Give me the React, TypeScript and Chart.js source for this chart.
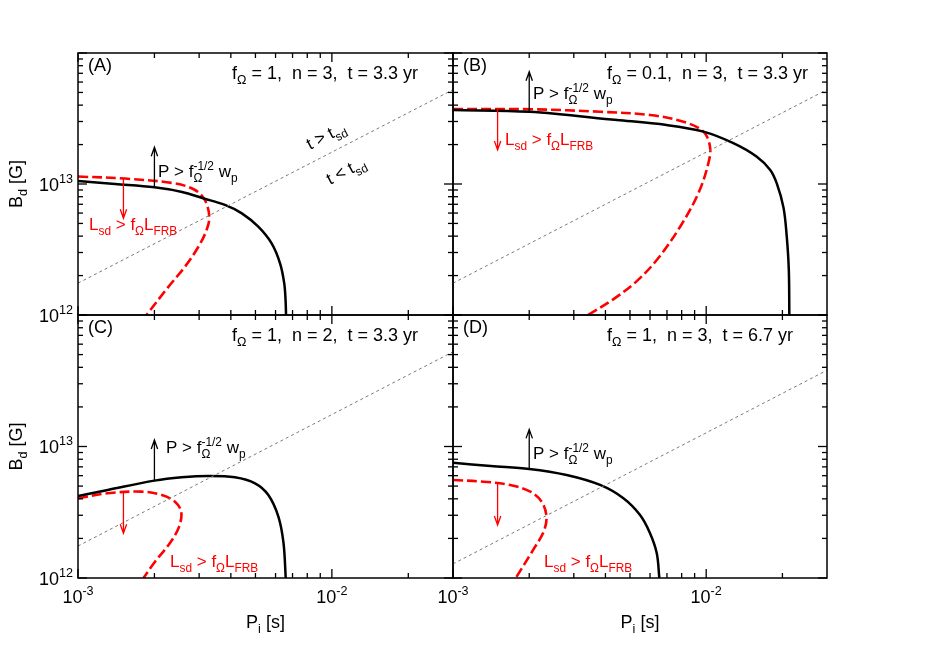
import React, { useEffect, useRef } from 'react';
import { Chart, registerables } from 'chart.js';

Chart.register(...registerables);

// ---------------- data ----------------
const X_MIN = 1e-3;
const X_MAX = 3e-2;
const Y_MIN = 1e12;
const Y_MAX = 1e14;

const xMajorTicks = [1e-3, 1e-2];
const xMinorTicks = [2e-3, 3e-3, 4e-3, 5e-3, 6e-3, 7e-3, 8e-3, 9e-3, 2e-2];
const yMajorTicks = [1e12, 1e13, 1e14];
const yMinorTicks = [2e12, 3e12, 4e12, 5e12, 6e12, 7e12, 8e12, 9e12, 2e13, 3e13, 4e13, 5e13, 6e13, 7e13, 8e13, 9e13];
const xLabelTicks = [1e-3, 1e-2];
const xTickLabels = ['-3', '-2'];
const yLabelTicks = [1e12, 1e13];
const yTickLabels = ['12', '13'];

// Panel A : f=1, n=3, t=3.3 yr
const panelA_black = [
  [1.0e-3, 1.055e13], [1.4e-3, 1.0e13], [2.0e-3, 9.44e12], [2.57e-3, 8.7e12], [3.11e-3, 7.78e12],
  [3.79e-3, 6.92e12], [4.42e-3, 5.97e12], [5.13e-3, 4.72e12], [5.79e-3, 3.52e12], [6.25e-3, 2.48e12],
  [6.49e-3, 1.75e12], [6.57e-3, 1.3e12], [6.6e-3, 1.0e12],
];
const panelA_red = [
  [1.0e-3, 1.14e13], [1.53e-3, 1.10e13], [2.41e-3, 1.01e13], [2.89e-3, 9.0e12], [3.16e-3, 7.55e12],
  [3.29e-3, 5.63e12], [3.21e-3, 4.45e12], [2.98e-3, 3.32e12], [2.64e-3, 2.34e12], [2.27e-3, 1.64e12],
  [1.86e-3, 1.0e12],
];
const panelA_tsd = [[1e-3, 1.75e12], [3e-2, 5.25e13]];

// Panel B : f=0.1, n=3, t=3.3 yr
const panelB_black = [
  [1.0e-3, 3.67e13], [2.0e-3, 3.56e13], [4.44e-3, 3.08e13], [6.98e-3, 2.82e13], [9.75e-3, 2.51e13],
  [1.28e-2, 2.05e13], [1.58e-2, 1.62e13], [1.79e-2, 1.28e13], [1.90e-2, 1.01e13], [2.02e-2, 6.6e12],
  [2.08e-2, 4.0e12], [2.12e-2, 2.2e12], [2.13e-2, 1.0e12],
];
const panelB_red = [
  [1.0e-3, 3.74e13], [2.07e-3, 3.72e13], [3.81e-3, 3.56e13], [6.0e-3, 3.36e13], [8.13e-3, 2.99e13],
  [9.75e-3, 2.51e13], [1.035e-2, 1.93e13], [1.02e-2, 1.44e13], [9.31e-3, 8.49e12], [7.89e-3, 4.72e12],
  [6.4e-3, 2.65e12], [5.28e-3, 1.79e12], [4.25e-3, 1.30e12], [3.42e-3, 1.0e12],
];
const panelB_tsd = [[1e-3, 1.75e12], [3e-2, 5.25e13]];

// Panel C : f=1, n=2, t=3.3 yr
const panelC_black = [
  [1.0e-3, 4.20e12], [1.31e-3, 4.67e12], [2.0e-3, 5.50e12], [2.56e-3, 5.83e12], [3.26e-3, 5.97e12],
  [4.15e-3, 5.83e12], [4.98e-3, 5.25e12], [5.62e-3, 4.28e12], [6.16e-3, 2.92e12], [6.45e-3, 1.84e12],
  [6.58e-3, 1.0e12],
];
const panelC_red = [
  [1.0e-3, 4.04e12], [1.31e-3, 4.41e12], [1.78e-3, 4.54e12], [2.14e-3, 4.28e12], [2.41e-3, 3.80e12],
  [2.55e-3, 3.19e12], [2.50e-3, 2.45e12], [2.30e-3, 1.84e12], [2.01e-3, 1.33e12], [1.81e-3, 1.0e12],
];
const panelC_tsd = [[1e-3, 1.75e12], [3e-2, 5.25e13]];

// Panel D : f=1, n=3, t=6.7 yr
const panelD_black = [
  [1.0e-3, 7.53e12], [1.41e-3, 7.1e12], [2.0e-3, 6.75e12], [2.81e-3, 6.07e12], [3.81e-3, 5.10e12],
  [4.71e-3, 4.04e12], [5.48e-3, 3.01e12], [6.0e-3, 2.19e12], [6.38e-3, 1.54e12], [6.53e-3, 1.0e12],
];
const panelD_red = [
  [1.0e-3, 5.56e12], [1.32e-3, 5.40e12], [1.68e-3, 5.10e12], [2.02e-3, 4.53e12], [2.24e-3, 3.80e12],
  [2.34e-3, 2.92e12], [2.28e-3, 2.25e12], [2.07e-3, 1.63e12], [1.77e-3, 1.0e12],
];
const panelD_tsd = [[1e-3, 1.28e12], [3e-2, 3.8e13]];

// arrows: [P, B start, B end]
const panelA_arrows = { black: [2.0e-3, 9.44e12, 1.91e13], red: [1.51e-3, 1.10e13, 5.47e12] };
const panelB_arrows = { black: [2.0e-3, 3.56e13, 7.2e13], red: [1.50e-3, 3.72e13, 1.82e13] };
const panelC_arrows = { black: [2.0e-3, 5.5e12, 1.12e13], red: [1.51e-3, 4.5e12, 2.19e12] };
const panelD_arrows = { black: [2.0e-3, 6.75e12, 1.35e13], red: [1.50e-3, 5.25e12, 2.53e12] };

// ---------------- text ----------------
type Seg = { t: string; m?: 'sub' | 'sup'; stack?: boolean };
const paramsA: Seg[] = [{ t: 'f' }, { t: 'Ω', m: 'sub' }, { t: ' = 1,  n = 3,  t = 3.3 yr' }];
const paramsB: Seg[] = [{ t: 'f' }, { t: 'Ω', m: 'sub' }, { t: ' = 0.1,  n = 3,  t = 3.3 yr' }];
const paramsC: Seg[] = [{ t: 'f' }, { t: 'Ω', m: 'sub' }, { t: ' = 1,  n = 2,  t = 3.3 yr' }];
const paramsD: Seg[] = [{ t: 'f' }, { t: 'Ω', m: 'sub' }, { t: ' = 1,  n = 3,  t = 6.7 yr' }];
const labelP: Seg[] = [{ t: 'P > f' }, { t: 'Ω', m: 'sub', stack: true }, { t: '-1/2', m: 'sup' }, { t: ' w' }, { t: 'p', m: 'sub' }];
const labelL: Seg[] = [{ t: 'L' }, { t: 'sd', m: 'sub' }, { t: ' > f' }, { t: 'Ω', m: 'sub' }, { t: 'L' }, { t: 'FRB', m: 'sub' }];
const labelGT: Seg[] = [{ t: 't > t' }, { t: 'sd', m: 'sub' }];
const labelLT: Seg[] = [{ t: 't < t' }, { t: 'sd', m: 'sub' }];
const titleY: Seg[] = [{ t: 'B' }, { t: 'd', m: 'sub' }, { t: ' [G]' }];
const titleX: Seg[] = [{ t: 'P' }, { t: 'i', m: 'sub' }, { t: ' [s]' }];

// ---------------- layout ----------------
const W = 934;
const H = 654;
const FONT = '"Liberation Sans", Arial, Helvetica, sans-serif';
const FS = 18;
const FS_NOTE = 17;
const RED = '#ff0000';

type PanelCfg = {
  id: string;
  box: [number, number, number, number];
  black: number[][];
  red: number[][];
  tsd: number[][];
  arrows: { black: number[]; red: number[] };
  params: Seg[];
  pPos: [number, number];
  lPos: [number, number];
  xLabels: boolean;
  yLabels: boolean;
  tsdText: boolean;
};

const panels: PanelCfg[] = [
  { id: 'A', box: [78, 53, 453, 315], black: panelA_black, red: panelA_red, tsd: panelA_tsd, arrows: panelA_arrows,
    params: paramsA, pPos: [80, 124], lPos: [11, 177], xLabels: false, yLabels: true, tsdText: true },
  { id: 'B', box: [453, 53, 827, 315], black: panelB_black, red: panelB_red, tsd: panelB_tsd, arrows: panelB_arrows,
    params: paramsB, pPos: [80, 46], lPos: [52, 92], xLabels: false, yLabels: false, tsdText: false },
  { id: 'C', box: [78, 315, 453, 578], black: panelC_black, red: panelC_red, tsd: panelC_tsd, arrows: panelC_arrows,
    params: paramsC, pPos: [88, 138], lPos: [92, 252], xLabels: true, yLabels: true, tsdText: false },
  { id: 'D', box: [453, 315, 827, 578], black: panelD_black, red: panelD_red, tsd: panelD_tsd, arrows: panelD_arrows,
    params: paramsD, pPos: [80, 144], lPos: [91, 252], xLabels: true, yLabels: false, tsdText: false },
];

function segFont(size: number, m?: string) {
  return `${m ? size * 0.7 : size}px ${FONT}`;
}
function richWidth(ctx: CanvasRenderingContext2D, segs: Seg[], size: number) {
  let w = 0;
  let stackW = 0;
  for (const s of segs) {
    ctx.font = segFont(size, s.m);
    const sw = ctx.measureText(s.t).width;
    if (s.stack) { stackW = sw; continue; }
    if (stackW) { w += Math.max(stackW, sw); stackW = 0; } else w += sw;
  }
  return w;
}
function drawRich(ctx: CanvasRenderingContext2D, segs: Seg[], x: number, y: number, size: number, color: string, align: 'left' | 'center' | 'right' = 'left') {
  const w = richWidth(ctx, segs, size);
  let cx = align === 'center' ? x - w / 2 : align === 'right' ? x - w : x;
  ctx.fillStyle = color;
  ctx.textAlign = 'left';
  ctx.textBaseline = 'alphabetic';
  let stackW = 0;
  for (const s of segs) {
    ctx.font = segFont(size, s.m);
    const sw = ctx.measureText(s.t).width;
    const dy = s.m === 'sub' ? size * 0.3 : s.m === 'sup' ? -size * 0.42 : 0;
    ctx.fillText(s.t, cx, y + dy);
    if (s.stack) { stackW = sw; continue; }
    if (stackW) { cx += Math.max(stackW, sw); stackW = 0; } else cx += sw;
  }
}

function drawArrow(ctx: CanvasRenderingContext2D, x: number, y0: number, y1: number, color: string) {
  ctx.strokeStyle = color;
  ctx.lineWidth = 1.3;
  ctx.setLineDash([]);
  ctx.beginPath();
  ctx.moveTo(x, y0);
  ctx.lineTo(x, y1);
  const dir = y1 < y0 ? 1 : -1;
  ctx.moveTo(x - 3.2, y1 + dir * 9);
  ctx.lineTo(x, y1);
  ctx.lineTo(x + 3.2, y1 + dir * 9);
  ctx.stroke();
}

function makePlugin(p: PanelCfg) {
  return {
    id: 'decor' + p.id,
    afterDraw(chart: any) {
      const ctx: CanvasRenderingContext2D = chart.ctx;
      const xs = chart.scales.x;
      const ys = chart.scales.y;
      const a = chart.chartArea;
      ctx.save();
      ctx.setLineDash([]);
      ctx.globalAlpha = 1;
      // ticks (filled rectangles, inward on all four sides)
      ctx.fillStyle = '#000';
      const tw = 1.3;
      const tick = (v: number, len: number, isX: boolean) => {
        if (isX) {
          const px = xs.getPixelForValue(v);
          if (!(px >= a.left && px <= a.right)) return;
          ctx.fillRect(px - tw / 2, a.bottom - len, tw, len);
          ctx.fillRect(px - tw / 2, a.top, tw, len);
        } else {
          const py = ys.getPixelForValue(v);
          if (!(py >= a.top && py <= a.bottom)) return;
          ctx.fillRect(a.left, py - tw / 2, len, tw);
          ctx.fillRect(a.right - len, py - tw / 2, len, tw);
        }
      };
      xMajorTicks.forEach((v) => tick(v, 9, true));
      xMinorTicks.forEach((v) => tick(v, 5, true));
      yMajorTicks.forEach((v) => tick(v, 9, false));
      yMinorTicks.forEach((v) => tick(v, 5, false));
      // frame
      ctx.strokeStyle = '#000';
      ctx.lineWidth = 1.5;
      ctx.strokeRect(a.left, a.top, a.right - a.left, a.bottom - a.top);

      // arrows
      const ab = p.arrows.black;
      drawArrow(ctx, xs.getPixelForValue(ab[0]), ys.getPixelForValue(ab[1]), ys.getPixelForValue(ab[2]), '#000');
      const ar = p.arrows.red;
      drawArrow(ctx, xs.getPixelForValue(ar[0]), ys.getPixelForValue(ar[1]), ys.getPixelForValue(ar[2]), RED);

      // texts
      drawRich(ctx, [{ t: `(${p.id})` }], a.left + 10, a.top + 18, FS, '#000');
      drawRich(ctx, p.params, a.left + 154, a.top + 26, FS, '#000');
      drawRich(ctx, labelP, a.left + p.pPos[0], a.top + p.pPos[1], FS_NOTE, '#000');
      drawRich(ctx, labelL, a.left + p.lPos[0], a.top + p.lPos[1], FS_NOTE, RED);

      if (p.tsdText) {
        const x1 = xs.getPixelForValue(p.tsd[0][0]);
        const y1 = ys.getPixelForValue(p.tsd[0][1]);
        const x2 = xs.getPixelForValue(p.tsd[1][0]);
        const y2 = ys.getPixelForValue(p.tsd[1][1]);
        const ang = Math.atan2(y2 - y1, x2 - x1);
        const put = (segs: Seg[], cx: number, cy: number) => {
          ctx.save();
          ctx.translate(cx, cy);
          ctx.rotate(ang);
          drawRich(ctx, segs, 0, 5, FS_NOTE, '#000', 'center');
          ctx.restore();
        };
        put(labelGT, a.left + 248, a.top + 83);
        put(labelLT, a.left + 268, a.top + 118);
      }

      // tick labels
      if (p.xLabels) {
        xLabelTicks.forEach((v, i) => {
          const px = xs.getPixelForValue(v);
          drawRich(ctx, [{ t: '10' }, { t: xTickLabels[i], m: 'sup' }], px, a.bottom + 25, FS, '#000', 'center');
        });
        drawRich(ctx, titleX, (a.left + a.right) / 2, a.bottom + 50, FS, '#000', 'center');
      }
      if (p.yLabels) {
        yLabelTicks.forEach((v, i) => {
          const py = ys.getPixelForValue(v);
          drawRich(ctx, [{ t: '10' }, { t: yTickLabels[i], m: 'sup' }], a.left - 5, py + 6.5, FS, '#000', 'right');
        });
        ctx.save();
        ctx.translate(22, (a.top + a.bottom) / 2);
        ctx.rotate(-Math.PI / 2);
        drawRich(ctx, titleY, 0, 0, FS, '#000', 'center');
        ctx.restore();
      }
      ctx.restore();
    },
  };
}

const toPts = (arr: number[][]) => arr.map(([x, y]) => ({ x, y }));

function PanelChart({ p }: { p: PanelCfg }) {
  const ref = useRef<HTMLCanvasElement>(null);
  useEffect(() => {
    const [l, t, r, b] = p.box;
    const chart = new Chart(ref.current as HTMLCanvasElement, {
      type: 'scatter',
      data: {
        datasets: [
          { data: toPts(p.tsd), showLine: true, borderColor: '#7a7a7a', borderWidth: 1, borderDash: [3, 3], pointRadius: 0, tension: 0 },
          { data: toPts(p.black), showLine: true, borderColor: '#000', borderWidth: 2.5, pointRadius: 0, tension: 0.35 },
          { data: toPts(p.red), showLine: true, borderColor: RED, borderWidth: 2.6, borderDash: [10, 4], pointRadius: 0, tension: 0.35 },
        ],
      } as any,
      options: {
        responsive: false,
        animation: false,
        events: [],
        layout: { padding: { left: l, top: t, right: W - r, bottom: H - b } },
        plugins: { legend: { display: false }, tooltip: { enabled: false } },
        scales: {
          x: { type: 'logarithmic', min: X_MIN, max: X_MAX, display: false },
          y: { type: 'logarithmic', min: Y_MIN, max: Y_MAX, display: false },
        },
      } as any,
      plugins: [makePlugin(p)],
    });
    return () => chart.destroy();
  }, []);
  return <canvas ref={ref} width={W} height={H} style={{ position: 'absolute', left: 0, top: 0, width: W, height: H }} />;
}

export default function App() {
  return (
    <div style={{ position: 'fixed', left: 0, top: 0, width: W, height: H, background: '#fff' }}>
      {panels.map((p) => (
        <PanelChart key={p.id} p={p} />
      ))}
    </div>
  );
}
